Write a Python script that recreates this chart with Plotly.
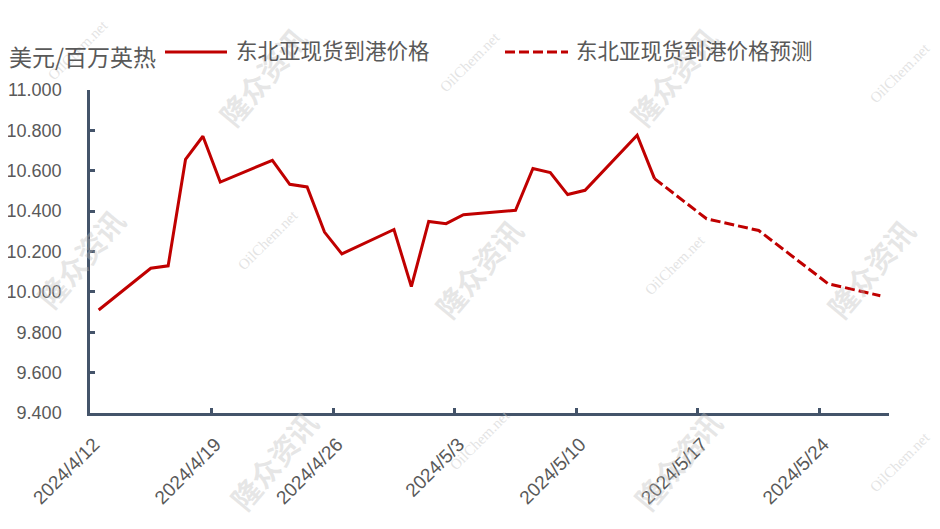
import pandas as pd
import plotly.graph_objects as go

# ---------------- data ----------------
actual_dates = ["2024-04-12", "2024-04-15", "2024-04-16", "2024-04-17", "2024-04-18",
                "2024-04-19", "2024-04-22", "2024-04-23", "2024-04-24", "2024-04-25",
                "2024-04-26", "2024-04-29", "2024-04-30", "2024-05-01", "2024-05-02",
                "2024-05-03", "2024-05-06", "2024-05-07", "2024-05-08", "2024-05-09",
                "2024-05-10", "2024-05-13", "2024-05-14"]
actual_values = [9.910, 10.117, 10.129, 10.656, 10.771,
                 10.544, 10.652, 10.533, 10.520, 10.296,
                 10.188, 10.309, 10.026, 10.349, 10.338,
                 10.382, 10.404, 10.611, 10.591, 10.482,
                 10.503, 10.776, 10.561]

forecast_dates = ["2024-05-14", "2024-05-17", "2024-05-20", "2024-05-24", "2024-05-27"]
forecast_values = [10.561, 10.362, 10.304, 10.040, 9.981]

tick_labels = ["2024/4/12", "2024/4/19", "2024/4/26", "2024/5/3",
               "2024/5/10", "2024/5/17", "2024/5/24"]

series_names = ["东北亚现货到港价格", "东北亚现货到港价格预测"]
unit_label = "美元/百万英热"

# ---------------- style / layout ----------------
RED = "#C00000"
AXIS = "#44546A"
TXT = "#595959"
NUM_FONT = "Liberation Sans, Arial, sans-serif"
CJK_FONT = "Noto Sans CJK SC, sans-serif"

OFF = 8                      # default page body margin
W, H = 940 - OFF, 529 - OFF  # figure size inside the page
L, R, T, B = 90, 889, 90, 413   # plot area in page pixels


def px(x):
    return (x - L) / (R - L)


def py(y):
    return (B - y) / (B - T)


half_day = pd.Timedelta(hours=12)
tickvals = [pd.Timestamp(s.replace("/", "-")) - half_day for s in tick_labels]
x_start = pd.Timestamp(actual_dates[0]) - half_day
x_end = pd.Timestamp(forecast_dates[-1]) + half_day

fig = go.Figure()
fig.add_trace(go.Scatter(
    x=pd.to_datetime(actual_dates), y=actual_values, mode="lines",
    name=series_names[0], line=dict(color=RED, width=3), showlegend=False))
fig.add_trace(go.Scatter(
    x=pd.to_datetime(forecast_dates), y=forecast_values, mode="lines",
    name=series_names[1], line=dict(color=RED, width=3, dash="10px,4px"),
    showlegend=False))

# watermarks
wm_big = [(262, 76), (673, 76), (80, 258), (478, 268), (870, 268), (273, 460), (677, 460)]
wm_small = [(78, 50), (470, 62), (900, 73), (268, 240), (675, 265), (480, 440), (900, 462)]
annotations = []
for (x, y) in wm_big:
    annotations.append(dict(
        x=px(x), y=py(y), xref="paper", yref="paper", text="<b>隆众资讯</b>",
        showarrow=False, textangle=-50, xanchor="center", yanchor="middle",
        font=dict(family=CJK_FONT, size=29, color="rgba(190,190,190,0.38)")))
for (x, y) in wm_small:
    annotations.append(dict(
        x=px(x), y=py(y), xref="paper", yref="paper", text="OilChem.net",
        showarrow=False, textangle=-45, xanchor="center", yanchor="middle",
        font=dict(family="Liberation Serif, serif", size=15, color="rgba(200,200,200,0.5)")))

# unit label
annotations.append(dict(
    x=px(7), y=py(56), xref="paper", yref="paper", text=unit_label,
    showarrow=False, xanchor="left", yanchor="middle",
    font=dict(family=CJK_FONT, size=23, color=TXT)))

# manual legend
legend_items = [
    (165, 227, 234, "solid"),
    (505, 568, 574, "10px,4px"),
]
shapes = []
for (name, (x0, x1, xt, dash)) in zip(series_names, legend_items):
    shapes.append(dict(type="line", xref="paper", yref="paper",
                       x0=px(x0), x1=px(x1), y0=py(52), y1=py(52),
                       line=dict(color=RED, width=3, dash=dash)))
    annotations.append(dict(
        x=px(xt), y=py(50), xref="paper", yref="paper", text=name,
        showarrow=False, xanchor="left", yanchor="middle",
        font=dict(family=CJK_FONT, size=21.5, color=TXT)))

fig.update_layout(
    width=W, height=H,
    margin=dict(l=L - OFF, r=W - (R - OFF), t=T - OFF, b=H - (B - OFF), pad=0),
    paper_bgcolor="white", plot_bgcolor="white",
    showlegend=False,
    annotations=annotations,
    shapes=shapes,
    xaxis=dict(
        type="date", range=[x_start, x_end], automargin=False,
        tickmode="array", tickvals=tickvals, ticktext=tick_labels,
        tickangle=-45, ticks="inside", ticklen=5, tickwidth=2.5, tickcolor=AXIS,
        showline=True, linecolor=AXIS, linewidth=2.5,
        showgrid=False, zeroline=False,
        ticklabelshift=4, ticklabelstandoff=10,
        tickfont=dict(family=NUM_FONT, size=19, color=TXT),
    ),
    yaxis=dict(
        range=[9.4, 11.0], tick0=9.4, dtick=0.2, tickformat=".3f", automargin=False,
        ticks="inside", ticklen=5, tickwidth=2.5, tickcolor=AXIS,
        showline=True, linecolor=AXIS, linewidth=2.5,
        showgrid=False, zeroline=False,
        ticklabelstandoff=22,
        tickfont=dict(family=NUM_FONT, size=18, color=TXT),
    ),
)

fig.write_html("out.html")
